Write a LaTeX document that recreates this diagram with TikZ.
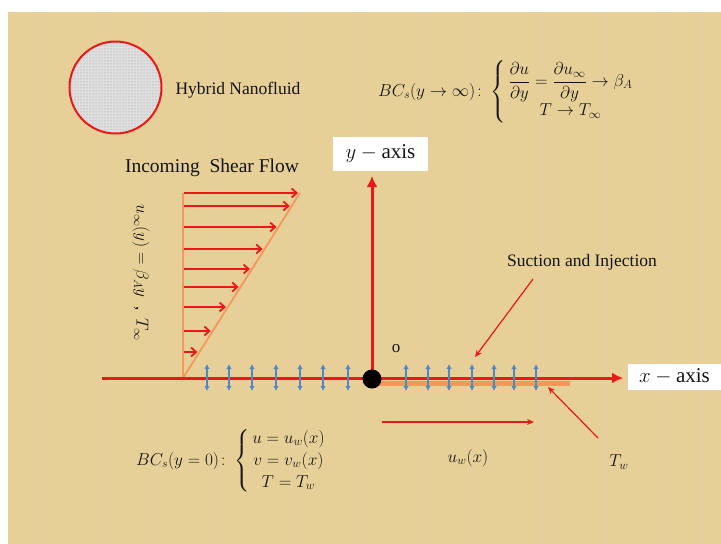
\documentclass[tikz,border=0pt]{standalone}
\usepackage{amsmath}
\usepackage{fontspec}
\setmainfont{Liberation Serif}
\usetikzlibrary{arrows.meta,patterns,calc}
\definecolor{paper}{RGB}{231,208,152}
\definecolor{axred}{RGB}{236,24,24}
\definecolor{flowor}{RGB}{245,150,90}
\definecolor{wallblue}{RGB}{80,135,200}
\definecolor{ink}{RGB}{20,20,20}
\tikzset{
  axisarrow/.style={draw=axred, line width=3pt, -{Latex[length=11pt,width=11pt]}},
  profile/.style={draw=flowor, line width=1.8pt},
  shear/.style={draw=axred, line width=1.8pt, -{Straight Barb[length=5pt,width=9pt,line width=1.8pt]}},
  wallarrow/.style={draw=wallblue, line width=1.7pt, {Latex[length=5pt,width=5.5pt]}-{Latex[length=5pt,width=5.5pt]}},
  pointer/.style={draw=axred, line width=1.2pt, -{Stealth[length=7pt,width=6pt]}},
  lbl/.style={text=ink, font=\fontsize{17.5}{20}\selectfont, inner sep=0pt},
  mathlbl/.style={text=ink, font=\fontsize{18}{22}\selectfont, inner sep=0pt},
  axbox/.style={fill=white, text=ink, font=\fontsize{21}{24}\selectfont, inner sep=0pt, minimum height=34pt}
}
\begin{document}
\begin{tikzpicture}[x=1pt,y=-1pt]
\useasboundingbox (0,0) rectangle (721,544);
\fill[white] (0,0) rectangle (721,544);
\fill[paper] (8,12) rectangle (721,544);
% subtle texture stripes
\foreach \sx/\sw in {40/6,95/4,150/8,215/5,290/7,355/4,420/9,470/5,540/6,600/8,660/5,700/4}{
  \fill[brown!40, opacity=0.10] (\sx,12) rectangle ++(\sw,532);
}
% nanofluid particle
\coordinate (pc) at (115.5,87.5);
\fill[gray!25] (pc) circle (46);
\fill[pattern=dots, pattern color=gray!85] (pc) circle (46);
\draw[axred, line width=2pt] (pc) circle (46);
\node[lbl] (hn) at (238,90) {Hybrid Nanofluid};

% top boundary conditions
\node[mathlbl, font=\fontsize{16.5}{20}\selectfont, anchor=west] (bcinf) at (378,92) {$BC_s(y\to\infty)\colon \left\{\begin{array}{@{\,}c@{}}\dfrac{\partial u}{\partial y}=\dfrac{\partial u_\infty}{\partial y}\to\beta_A\\[9pt] T\to T_\infty\end{array}\right.$};

% shear flow
\node[lbl, font=\fontsize{19.5}{22}\selectfont] (isf) at (212,168) {Incoming\ \ Shear Flow};
\coordinate (pb) at (183,378);
\coordinate (pt) at (183,193);
\coordinate (pd) at (300,193);
\draw[profile] (pt) -- (pb) -- (pd);
\foreach \yy in {193,206,227,249,269,287,307,331,352}{
  \pgfmathsetmacro{\xt}{183+(378-\yy)/185*117-2}
  \coordinate (sa) at (184,\yy);
  \coordinate (sb) at (\xt,\yy);
  \draw[shear] (sa) -- (sb);
}
\node[mathlbl, font=\fontsize{17}{20}\selectfont, rotate=-90] (uinf) at (141,273) {$u_\infty(y)=\beta_A y$\ \ ,\ \ $T_\infty$};

% wall heated strip
\coordinate (ws) at (372,383);
\coordinate (we) at (570,383);
\draw[flowor, line width=5pt] (ws) -- (we);

% axes
\node[axbox, minimum width=95pt] (ylab) at (380.5,154) {$y-\mathrm{axis}$};
\node[axbox, minimum width=93pt, minimum height=26pt] (xlab) at (674.5,376.5) {$x-\mathrm{axis}$};
\coordinate (o) at (372,379);
\coordinate (xl) at (102,378);
\coordinate (xr) at (623,378);
\coordinate (yt) at (372,176);
\draw[axisarrow] (xl) -- (xr);
\draw[axisarrow] (o) -- (yt);

% suction / injection arrows
\foreach \xx in {207,229,252,276,300,323,348,406,428,449,472,494,514,536}{
  \coordinate (wa) at (\xx,364);
  \coordinate (wb) at (\xx,391);
  \draw[wallarrow] (wa) -- (wb);
}
\fill[black] (o) circle (9.5);
\node[lbl, font=\fontsize{17}{20}\selectfont] (olab) at (396,349) {o};

% labels and pointers
\node[lbl] (suc) at (582,262) {Suction and Injection};
\coordinate (sucp) at (533,279);
\coordinate (suct) at (475,357);
\draw[pointer] (sucp) -- (suct);

\node[mathlbl] (tw) at (619,462) {$T_w$};
\coordinate (twp) at (598,438);
\coordinate (twt) at (548,387);
\draw[pointer] (twp) -- (twt);

\coordinate (uwa) at (382,422);
\coordinate (uwb) at (534,422);
\draw[pointer] (uwa) -- (uwb);
\node[mathlbl] (uw) at (468,458) {$u_w(x)$};

% wall boundary conditions
\node[mathlbl, anchor=west] (bc0) at (136,461) {$BC_s(y=0)\colon \left\{\begin{array}{@{\,}c@{}}u=u_w(x)\\ v=v_w(x)\\ T=T_w\end{array}\right.$};
\end{tikzpicture}
\end{document}
